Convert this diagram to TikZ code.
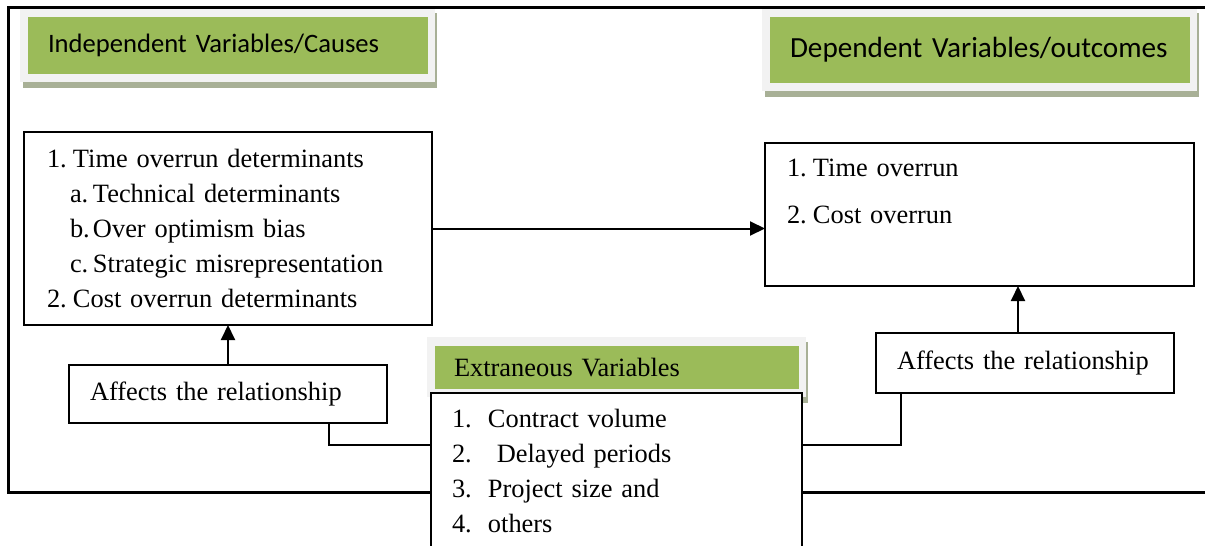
\documentclass[tikz,border=0pt]{standalone}
\usepackage{fontspec}
\setmainfont{Liberation Serif}
\newfontfamily\hdfont{Carlito}
\usetikzlibrary{arrows.meta, calc, backgrounds}

\definecolor{hdgreen}{RGB}{155,187,89}
\definecolor{hdrim}{RGB}{242,242,242}
\definecolor{hdshade}{RGB}{168,176,150}

% light rim and shadow behind a green heading
\newcommand{\headrim}[1]{%
  \begin{scope}[on background layer]
    \fill[hdshade] ($(#1.north west)+(-5,-4)$) rectangle ($(#1.south east)+(9,14)$);
    \fill[hdrim] ($(#1.north west)+(-8,-9)$) rectangle ($(#1.south east)+(7,8)$);
  \end{scope}}
\newcommand{\lbl}[2]{\makebox[#1][l]{#2}}

\begin{document}
\begin{tikzpicture}[x=0.5pt,y=-0.5pt,>={Triangle[length=7.5pt,width=7pt]},
  every node/.style={outer sep=0pt},
  font=\fontsize{13.2}{17.5}\selectfont,
  headbox/.style={fill=hdgreen, anchor=north west, inner ysep=2pt, align=left},
  listbox/.style={draw, line width=0.75pt, fill=white, anchor=north west, align=left, inner ysep=4pt},
  link/.style={line width=1pt}]

\useasboundingbox (0,0) rectangle (1205,546);
\clip (0,0) rectangle (1205,546);

% --- outer frame
\draw[line width=1.5pt] (1205,7) -| (8,492) -- (1205,492);

% --- headings
\node[headbox, text width=180pt, inner xsep=10pt, minimum height=28.5pt,
  font=\hdfont\fontsize{13.3}{16}\selectfont] (indep) at (28,17) {Independent Variables/Causes};
\headrim{indep}
\node[headbox, text width=190pt, inner xsep=10pt, minimum height=33pt,
  font=\hdfont\fontsize{14.6}{17}\selectfont] (dep) at (770,17) {Dependent Variables/outcomes};
\headrim{dep}
\node[headbox, text width=163pt, inner xsep=9.5pt, minimum height=21.5pt] (extra) at (435,346) {Extraneous Variables};
\headrim{extra}

% --- boxes
\node[listbox, text width=181pt, inner xsep=11.5pt, minimum height=96.5pt] (causes) at (24,132) {%
  \lbl{13pt}{1.}Time overrun determinants\\
  \hspace*{11.5pt}\lbl{11.5pt}{a.}Technical determinants\\
  \hspace*{11.5pt}\lbl{11.5pt}{b.}Over optimism bias\\
  \hspace*{11.5pt}\lbl{11.5pt}{c.}Strategic misrepresentation\\
  \lbl{13pt}{2.}Cost overrun determinants};

\node[listbox, text width=192.5pt, inner xsep=11pt, minimum height=71.5pt,
  font=\fontsize{13.2}{23.5}\selectfont] (outcomes) at (765,143) {%
  \lbl{13pt}{1.}Time overrun\\
  \lbl{13pt}{2.}Cost overrun\\
  \mbox{}};

\node[listbox, text width=138pt, inner xsep=10.5pt, minimum height=29pt] (affL) at (69,365) {Affects the relationship};
\node[listbox, text width=128pt, inner xsep=10.5pt, minimum height=30pt] (affR) at (876,333) {Affects the relationship};

\node[listbox, text width=164.5pt, inner xsep=10.5pt, inner ysep=8pt,
  font=\fontsize{13.2}{17.6}\selectfont] (extlist) at (431,393) {%
  \lbl{18pt}{1.}Contract volume\\
  \lbl{18pt}{2.}\ Delayed periods\\
  \lbl{18pt}{3.}Project size and\\
  \lbl{18pt}{4.}others\\
  \mbox{}};

% --- connectors
\coordinate (tapL) at ($(extlist.north west)+(0,52)$);
\coordinate (tapR) at ($(extlist.north east)+(0,52)$);
\coordinate (affRtop) at ($(affR.north west)+(142,0)$);
\draw[link] ($(affL.south east)+(-58,0)$) |- (tapL);
\draw[link] ($(affR.south west)+(25,0)$) |- (tapR);
\draw[link,->] (causes.east) -- (causes.east -| outcomes.west);
\draw[link,->] (affL.north) -- (affL.north |- causes.south);
\draw[link,->] (affRtop) -- (affRtop |- outcomes.south);

\end{tikzpicture}
\end{document}
